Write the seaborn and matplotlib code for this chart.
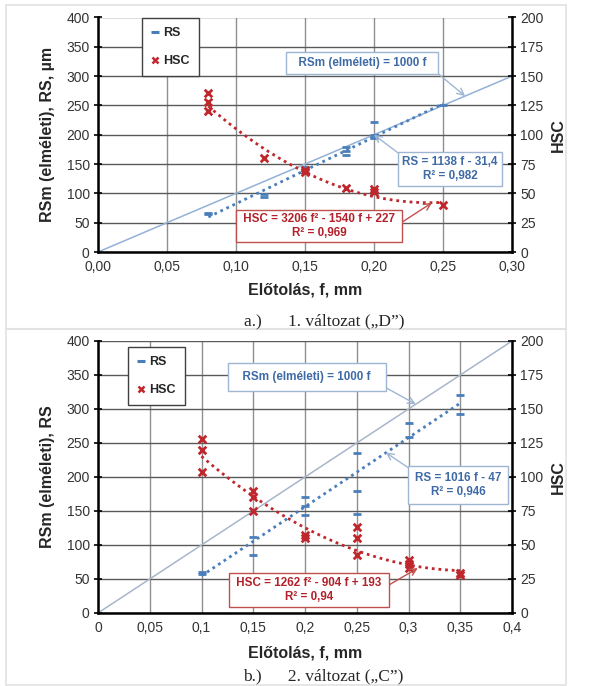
import numpy as np
import pandas as pd
import matplotlib
matplotlib.use("Agg")
import matplotlib.pyplot as plt
import seaborn as sns
from matplotlib.lines import Line2D
from matplotlib.patches import Rectangle

# ---------------- data: panel a (1. változat "D") ----------------
a_rs_f = [0.08, 0.08, 0.12, 0.12, 0.15, 0.15, 0.18, 0.18, 0.18, 0.20, 0.20, 0.20, 0.25]
a_rs = [64, 66, 99, 93, 145, 140, 179, 173, 166, 221, 199, 194, 250]
a_hsc_f = [0.08, 0.08, 0.08, 0.12, 0.15, 0.15, 0.18, 0.20, 0.20, 0.25]
a_hsc = [136, 128, 120, 80, 70, 68, 55, 54, 51, 40]
a_rs_coef = [1138, -31.4]
a_hsc_coef = [3206, -1540, 227]
a_fit_range = [0.08, 0.25]
a_theory_f = [0.0, 0.30]
a_theory = [0, 300]
a_xticks = [0.00, 0.05, 0.10, 0.15, 0.20, 0.25, 0.30]
a_xticklabels = ["0,00", "0,05", "0,10", "0,15", "0,20", "0,25", "0,30"]

# ---------------- data: panel b (2. változat "C") ----------------
b_rs_f = [0.10, 0.10, 0.15, 0.15, 0.20, 0.20, 0.20, 0.25, 0.25, 0.25, 0.30, 0.30, 0.35, 0.35]
b_rs = [60, 57, 112, 86, 171, 157, 144, 235, 179, 145, 279, 259, 320, 293]
b_hsc_f = [0.10, 0.10, 0.10, 0.15, 0.15, 0.15, 0.20, 0.20, 0.25, 0.25, 0.25,
           0.30, 0.30, 0.30, 0.35, 0.35]
b_hsc = [128, 120, 104, 90, 85, 75, 57, 55, 63, 55, 43, 39, 36, 33, 29.5, 28]
b_rs_coef = [1016, -47]
b_hsc_coef = [1262, -904, 193]
b_fit_range = [0.10, 0.35]
b_theory_f = [0.0, 0.40]
b_theory = [0, 400]
b_xticks = [0, 0.05, 0.1, 0.15, 0.2, 0.25, 0.3, 0.35, 0.4]
b_xticklabels = ["0", "0,05", "0,1", "0,15", "0,2", "0,25", "0,3", "0,35", "0,4"]

left_ticks = [0, 50, 100, 150, 200, 250, 300, 350, 400]
right_ticks = [0, 25, 50, 75, 100, 125, 150, 175, 200]

# ---------------- style ----------------
sns.set_style("white")
plt.rcParams["font.family"] = ["Liberation Sans", "DejaVu Sans"]
NOTE_FONT = ["Liberation Sans", "DejaVu Sans"]
NOTE_FS = 8.4

BLUE = "#4a7ebb"
BLUE_TXT = "#3e6aa6"
BLUE_EDGE = "#9fb6d3"
RED = "#c0272d"
RED_TXT = "#b3202a"
RED_EDGE = "#c0504d"
THEO_A = "#93b1d6"
THEO_B = "#a9b5cb"

W, H = 589, 686
fig = plt.figure(figsize=(W / 100, H / 100), dpi=100)


def px_axes(l, t, r, b):
    return fig.add_axes([l / W, 1 - b / H, (r - l) / W, (b - t) / H])


def fit_df(coef, rng):
    f = np.linspace(rng[0], rng[1], 60)
    return pd.DataFrame({"f": f, "v": np.polyval(coef, f)})


def note(ax2, text, xy, xycoords, xyt, color, edge, relpos, pad=0.45):
    ax2.annotate(text, xy=xy, xycoords=xycoords, xytext=(xyt[0], H - xyt[1]),
                 textcoords="figure pixels", ha="center", va="center",
                 multialignment="center", fontsize=NOTE_FS, fontweight="bold",
                 family=NOTE_FONT, color=color, zorder=10,
                 bbox=dict(boxstyle=f"square,pad={pad}", fc="white", ec=edge, lw=1.0),
                 arrowprops=dict(arrowstyle="->", color=edge, lw=1.0, relpos=relpos,
                                 shrinkA=0, shrinkB=0, mutation_scale=12))


def panel(box, rs_f, rs, hsc_f, hsc, rs_coef, hsc_coef, rng, th_f, th, theo_color,
          xticks, xticklabels, xmax, ylabel, legend_xy, notes, xlabel_y):
    ax = px_axes(*box)
    ax2 = ax.twinx()
    ax.set_axisbelow(True)

    sns.lineplot(x=th_f, y=th, ax=ax, color=theo_color, lw=1.1, zorder=2)
    sns.lineplot(data=fit_df(rs_coef, rng), x="f", y="v", ax=ax, color=BLUE,
                 lw=2.0, linestyle=(0, (1, 1.4)), zorder=3)
    sns.scatterplot(x=rs_f, y=rs, ax=ax, marker="_", s=40, linewidth=2.0,
                    color=BLUE, zorder=4)
    sns.lineplot(data=fit_df(hsc_coef, rng), x="f", y="v", ax=ax2, color=RED,
                 lw=2.0, linestyle=(0, (1, 1.4)), zorder=3)
    sns.scatterplot(x=hsc_f, y=hsc, ax=ax2, marker="x", s=30, linewidth=2.0,
                    color=RED, zorder=4)

    ax.set_xlim(0, xmax)
    ax.set_ylim(0, 400)
    ax2.set_ylim(0, 200)
    ax.set_xticks(xticks)
    ax.set_xticklabels(xticklabels)
    ax.set_yticks(left_ticks)
    ax2.set_yticks(right_ticks)

    ax.yaxis.grid(True, color="#5a5a5a", lw=1.0)
    ax.xaxis.grid(True, color="#8f8f8f", lw=1.0)
    ax.spines["top"].set_visible(False)
    ax.spines["right"].set_visible(False)
    for s in ["left", "bottom"]:
        ax.spines[s].set_linewidth(1.8)
        ax.spines[s].set_color("black")
    for s in ["left", "bottom", "top"]:
        ax2.spines[s].set_visible(False)
    ax2.spines["right"].set_linewidth(1.8)
    ax2.spines["right"].set_color("black")

    for a in (ax, ax2):
        a.tick_params(axis="both", direction="inout", length=6, width=1.2,
                      labelsize=10, pad=3, colors="black", labelcolor="#333333")

    ax.set_xlabel("Előtolás, f, mm", fontsize=11.5, fontweight="bold")
    ax.xaxis.set_label_coords(0.5, xlabel_y)
    ax.set_ylabel(ylabel, fontsize=11.5, fontweight="bold", rotation=90, va="center")
    ax.yaxis.set_label_coords(-0.121, 0.5)
    ax2.set_ylabel("HSC", fontsize=11.5, fontweight="bold", rotation=90, va="center")
    ax2.yaxis.set_label_coords(1.111, 0.5)

    handles = [Line2D([], [], marker="_", color=BLUE, ls="none", ms=6, mew=2.2),
               Line2D([], [], marker="x", color=RED, ls="none", ms=5, mew=1.8)]
    leg = ax2.legend(handles, ["RS", "HSC"], loc="upper left",
                     bbox_to_anchor=(legend_xy[0] / W, 1 - legend_xy[1] / H),
                     bbox_transform=fig.transFigure, borderaxespad=0,
                     frameon=True, fancybox=False, edgecolor="#404040",
                     framealpha=1, labelspacing=1.25, handlelength=0.6,
                     handletextpad=0.3, borderpad=0.75,
                     prop={"weight": "bold", "size": 9})
    leg.get_frame().set_linewidth(1.0)
    leg.set_zorder(9)

    for n in notes:
        xyc = ax.transData if n["axis"] == "left" else ax2.transData
        note(ax2, n["text"], n["xy"], xyc, n["pos"], n["color"], n["edge"],
             n["relpos"], n.get("pad", 0.45))
    return ax, ax2


panel((98, 17.5, 512, 252), a_rs_f, a_rs, a_hsc_f, a_hsc, a_rs_coef, a_hsc_coef,
      a_fit_range, a_theory_f, a_theory, THEO_A, a_xticks, a_xticklabels, 0.30,
      "RSm (elméleti), RS, µm", (142, 18),
      [dict(text="  RSm (elméleti) = 1000 f  ", xy=(0.266, 266), axis="left",
            pos=(362, 63), color=BLUE_TXT, edge=BLUE_EDGE, relpos=(1, 0)),
       dict(text="RS = 1138 f - 31,4\nR² = 0,982", xy=(0.20, 200), axis="left",
            pos=(450, 169), color=BLUE_TXT, edge=BLUE_EDGE, relpos=(0, 1), pad=0.35),
       dict(text=" HSC = 3206 f² - 1540 f + 227 \nR² = 0,969", xy=(0.242, 42),
            axis="right", pos=(319, 226), color=RED_TXT, edge=RED_EDGE,
            relpos=(1, 0.55), pad=0.3)],
      -0.132)

panel((98, 341, 512, 613), b_rs_f, b_rs, b_hsc_f, b_hsc, b_rs_coef, b_hsc_coef,
      b_fit_range, b_theory_f, b_theory, THEO_B, b_xticks, b_xticklabels, 0.40,
      "RSm (elméleti), RS", (128, 347),
      [dict(text="  RSm (elméleti) = 1000 f  ", xy=(0.307, 307), axis="left",
            pos=(307, 377), color=BLUE_TXT, edge=BLUE_EDGE, relpos=(1, 0), pad=0.7),
       dict(text="RS = 1016 f - 47\nR² = 0,946", xy=(0.278, 236), axis="left",
            pos=(458, 485), color=BLUE_TXT, edge=BLUE_EDGE, relpos=(0, 1), pad=0.55),
       dict(text=" HSC = 1262 f² - 904 f + 193 \nR² = 0,94", xy=(0.309, 33),
            axis="right", pos=(309, 590), color=RED_TXT, edge=RED_EDGE,
            relpos=(1, 0.6), pad=0.35)],
      -0.118)

# captions
fig.text(324 / W, 1 - 321 / H, "a.)      1. változat („D”)", family="Liberation Serif",
         fontsize=12.5, ha="center", va="center")
fig.text(323 / W, 1 - 676 / H, "b.)      2. változat („C”)", family="Liberation Serif",
         fontsize=12.5, ha="center", va="center")

# frame and separator
fig.add_artist(Rectangle((6 / W, 1 - 685 / H), (566 - 6) / W, (685 - 5) / H,
                         transform=fig.transFigure, fill=False, ec="#e2e2e2", lw=1.2))
fig.add_artist(Line2D([6 / W, 566 / W], [1 - 329 / H, 1 - 329 / H],
                      transform=fig.transFigure, color="#e2e2e2", lw=1.5))

fig.savefig("out.png", dpi=100)
